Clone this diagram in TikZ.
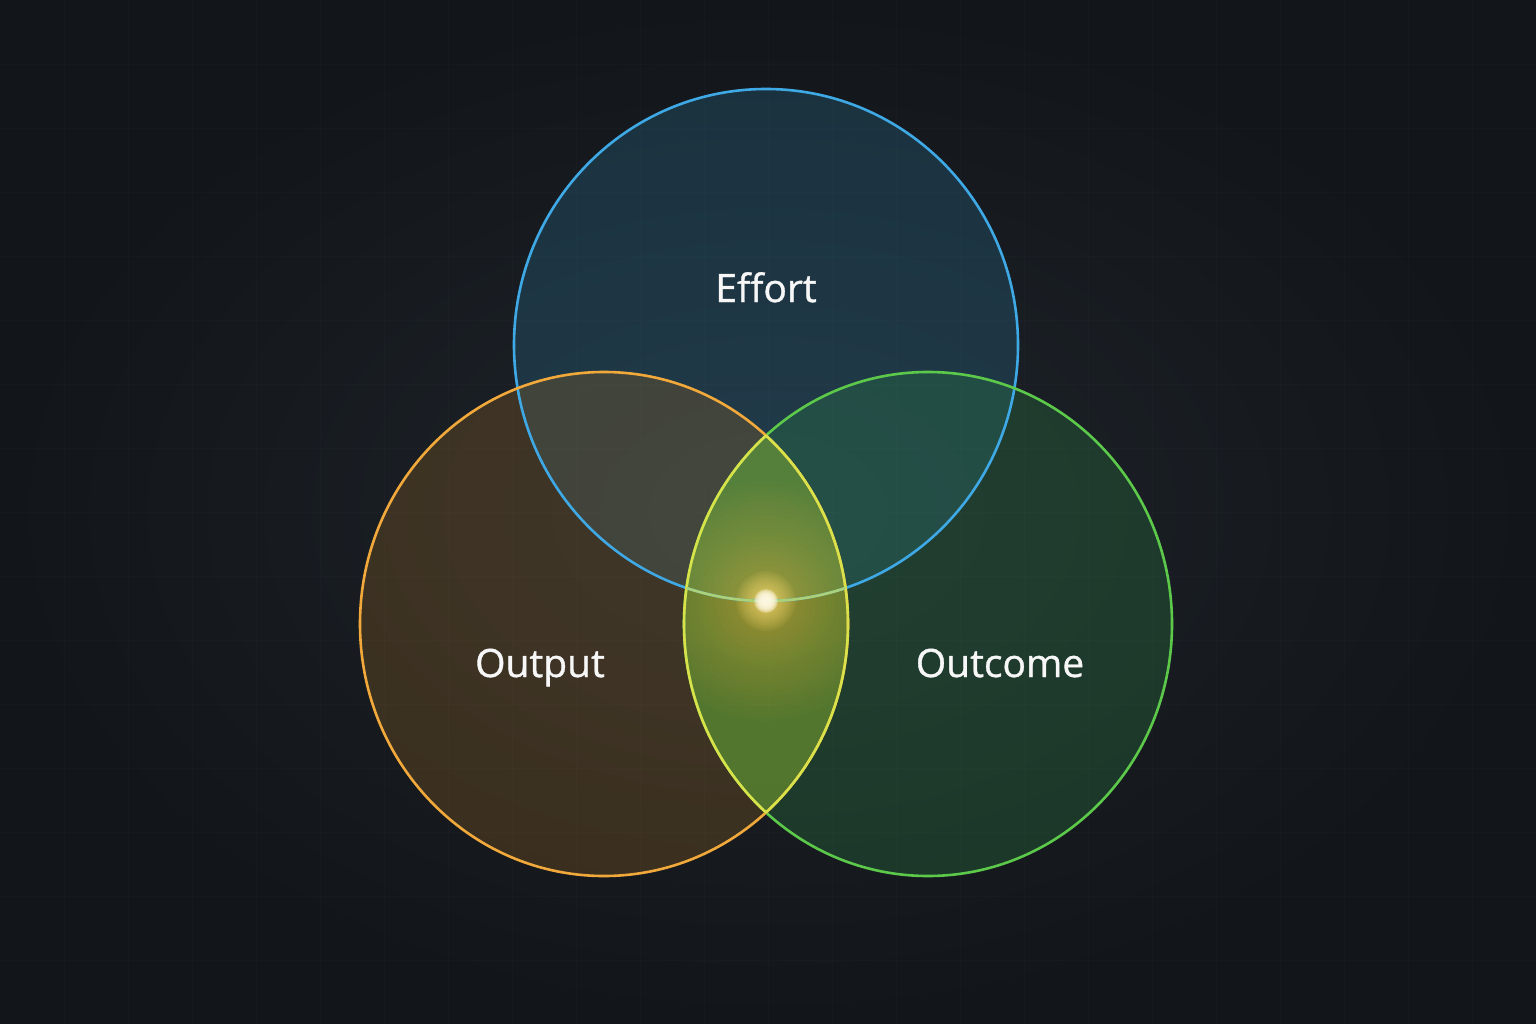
\documentclass[tikz,border=0pt]{standalone}
\usepackage{fontspec}
\setmainfont{Open Sans}
\newfontfamily\lblfont{Open Sans}[FakeBold=0.9]
\definecolor{bgin}{HTML}{1F252C}
\definecolor{bgout}{HTML}{121519}
\definecolor{cblue}{HTML}{3FA9E6}
\definecolor{corange}{HTML}{F2A93B}
\definecolor{cgreen}{HTML}{5CC94A}
\definecolor{cyel}{HTML}{D9E24A}
\definecolor{fblue}{HTML}{2A7090}
\definecolor{forange}{HTML}{8A6024}
\definecolor{fgreen}{HTML}{2C8044}
\definecolor{glowy}{HTML}{FFD94A}
\tikzset{
  lbl/.style={text=white!94!gray, font=\lblfont\fontsize{39}{42}\selectfont, inner sep=0pt, anchor=base},
  ring/.style={line width=2.6pt},
}
\begin{document}
\begin{tikzpicture}[x=1pt,y=-1pt]
\useasboundingbox (0,0) rectangle (1536,1024);
\shade[inner color=bgin, outer color=bgout] (0,0) rectangle (1536,1024);
% faint grid
\foreach \gx in {64,128,...,1536} \draw[white,opacity=0.015,line width=0.8pt] (\gx,0) -- (\gx,1024);
\foreach \gy in {64,128,...,1024} \draw[white,opacity=0.015,line width=0.8pt] (0,\gy) -- (1536,\gy);

\coordinate (cB) at (766,345);
\coordinate (cO) at (604,624);
\coordinate (cG) at (928,624);

% fills
\fill[fblue, opacity=0.30] (cB) ellipse [x radius=252, y radius=256];
\fill[forange, opacity=0.32] (cO) ellipse [x radius=244, y radius=252];
\fill[fgreen, opacity=0.30] (cG) ellipse [x radius=244, y radius=252];
% lens orange-green tint
\begin{scope}
  \clip (cO) ellipse [x radius=244, y radius=252];
  \fill[cyel!70!green, opacity=0.28] (cG) ellipse [x radius=244, y radius=252];
  % glow, mostly within the lens
  \clip (cG) ellipse [x radius=244, y radius=252];
  \foreach \r in {5,10,...,120} {
    \fill[glowy, opacity=0.02] (766,601) circle (\r);
  }
\end{scope}
\foreach \r in {4,8,...,70} {
  \fill[glowy, opacity=0.012] (766,601) circle (\r);
}
\foreach \r in {2,4,...,30} {
  \fill[glowy!75!white, opacity=0.07] (766,601) circle (\r);
}

% strokes
\draw[ring, cblue] (cB) ellipse [x radius=252, y radius=256];
\draw[ring, cgreen] (cG) ellipse [x radius=244, y radius=252];
\draw[ring, corange] (cO) ellipse [x radius=244, y radius=252];
\begin{scope}
  \clip (cO) ellipse [x radius=244, y radius=252];
  \draw[ring, cyel] (cG) ellipse [x radius=244, y radius=252];
\end{scope}
\begin{scope}
  \clip (cG) ellipse [x radius=244, y radius=252];
  \draw[ring, cyel] (cO) ellipse [x radius=244, y radius=252];
  \clip (cO) ellipse [x radius=244, y radius=252];
  \draw[ring, cyel!70!cblue] (cB) ellipse [x radius=252, y radius=256];
\end{scope}

% glow core
\foreach \r in {1,2,...,12} {
  \fill[white!85!glowy, opacity=0.3] (766,601) circle (\r);
}

\node[lbl] (effort) at (766,302) {Effort};
\node[lbl] (output) at (540,677) {Output};
\node[lbl] (outcome) at (1000,677) {Outcome};
\end{tikzpicture}
\end{document}
